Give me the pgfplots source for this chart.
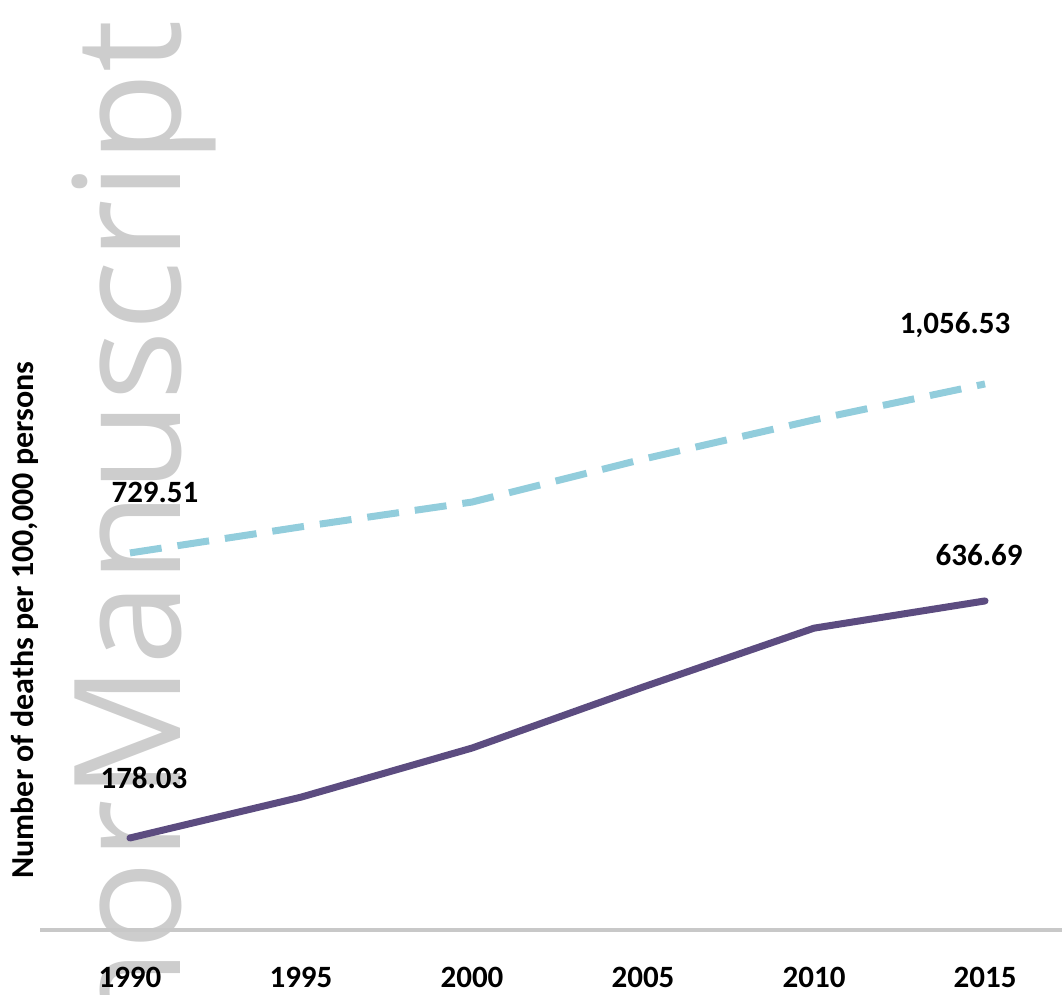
\documentclass[border=0pt]{standalone}
\usepackage{fontspec}
\setmainfont{Carlito}
\newfontfamily\wmfont{Open Sans}
\usepackage{pgfplots}
\pgfplotsset{compat=1.18}
\definecolor{solidpurple}{RGB}{92,76,128}
\definecolor{dashblue}{RGB}{146,205,220}
\definecolor{axisgray}{RGB}{200,200,200}
\definecolor{wmgray}{RGB}{205,205,205}
\begin{document}
\begin{tikzpicture}
\path[use as bounding box] (0,0) rectangle (531pt,497.5pt);
\clip (0,0) rectangle (531pt,497.5pt);
% watermark
\node[rotate=90, anchor=base west, inner sep=0pt, text=wmgray,
      font=\wmfont\fontsize{74}{80}\selectfont] at (90pt,97.5pt) {Manuscript};
\node[rotate=90, anchor=base east, inner sep=0pt, text=wmgray,
      font=\wmfont\fontsize{74}{80}\selectfont] at (90pt,97.5pt) {Author\ };
\begin{axis}[
  at={(20pt,32.5pt)}, anchor=south west,
  scale only axis, width=511pt, height=376pt,
  xmin=1987.37, xmax=2017.25, ymin=0, ymax=1455,
  axis x line=bottom, axis y line=left,
  x axis line style={axisgray, line width=2pt, -},
  y axis line style={draw=none},
  clip=false,
  xtick={1990,1995,2000,2005,2010,2015},
  xticklabels={1990,1995,2000,2005,2010,2015},
  major tick length=0pt,
  xticklabel style={font=\fontsize{15.5}{18}\selectfont\bfseries, anchor=center, yshift=-23.5pt},
  ytick=\empty,
  ylabel={Number of deaths per 100,000 persons},
  ylabel style={at={(axis description cs:-0.0147,0.412)}, anchor=center,
                font=\fontsize{16}{18}\selectfont\bfseries},
]
\addplot[dashblue, line width=3.5pt, dash pattern=on 16pt off 8pt] coordinates {
  (1990,729.51) (1995,780) (2000,828) (2005,911) (2010,987) (2015,1056.53)
};
\addplot[solidpurple, line width=3.5pt, line cap=round, line join=round] coordinates {
  (1990,178.03) (1995,257) (2000,352) (2005,470) (2010,584) (2015,636.69)
};
\node[font=\fontsize{15.5}{18}\selectfont\bfseries] at (axis cs:1990,729.51) [xshift=12.5pt, yshift=30.5pt] {729.51};
\node[font=\fontsize{15.5}{18}\selectfont\bfseries] at (axis cs:1990,178.03) [xshift=7pt, yshift=30pt] {178.03};
\node[font=\fontsize{15.5}{18}\selectfont\bfseries] at (axis cs:2015,636.69) [xshift=-3pt, yshift=23pt] {636.69};
\node[font=\fontsize{15.5}{18}\selectfont\bfseries] at (axis cs:2015,1056.53) [xshift=-15pt, yshift=29.5pt] {1,056.53};
\end{axis}
\end{tikzpicture}
\end{document}
